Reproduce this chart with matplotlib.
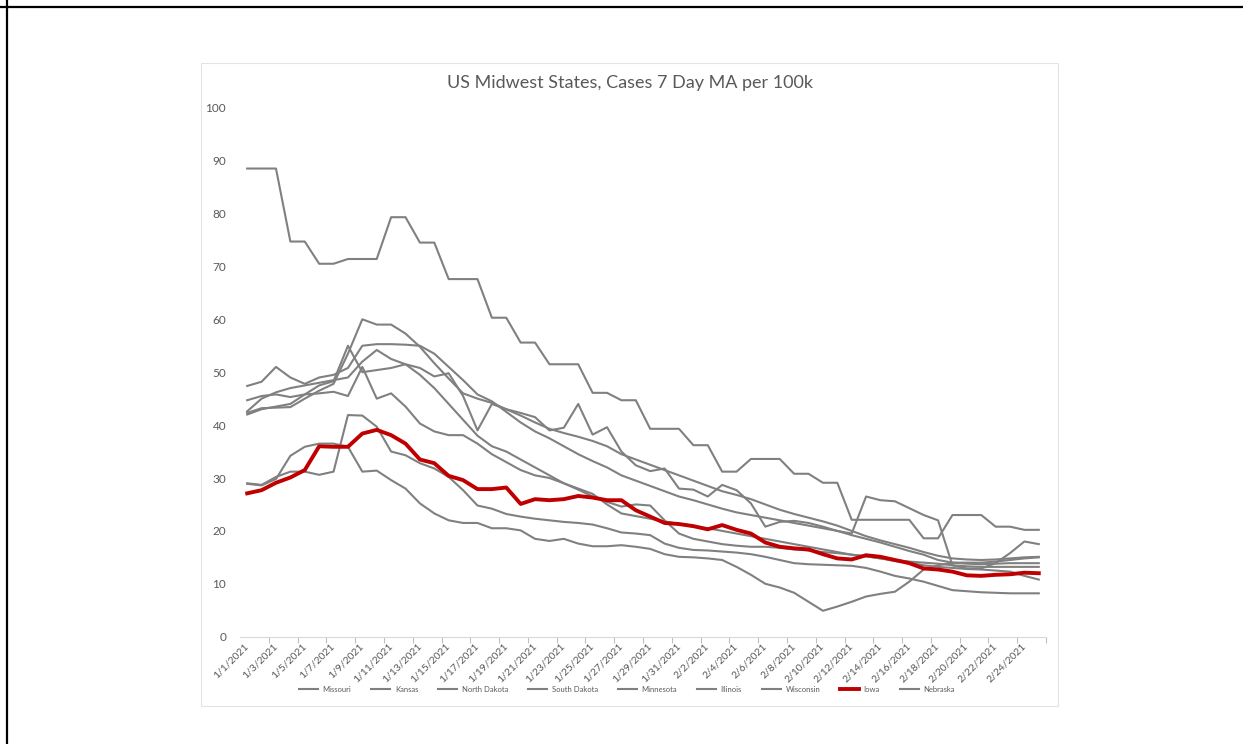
import matplotlib
matplotlib.use("Agg")
import matplotlib.pyplot as plt
from matplotlib.lines import Line2D
from matplotlib.patches import Rectangle
from matplotlib.ticker import FixedLocator, NullFormatter

plt.rcParams['font.family'] = ['Lato', 'DejaVu Sans']

# daily dates 1/1/2021 .. 2/25/2021
dates = [f"1/{d}/2021" for d in range(1, 32)] + [f"2/{d}/2021" for d in range(1, 26)]

states = ['Missouri', 'Kansas', 'North Dakota', 'South Dakota', 'Minnesota',
          'Illinois', 'Wisconsin', 'Iowa', 'Nebraska']

missouri = [42.0, 43.0, 43.5, 44.0, 45.8, 47.5, 48.3, 55.0, 50.0, 50.4,
            50.8, 51.5, 50.8, 49.2, 49.8, 45.5, 39.0, 44.0, 43.0, 42.3,
            41.5, 39.0, 39.5, 44.0, 38.2, 39.6, 35.0, 32.4, 31.3, 31.8,
            28.0, 27.8, 26.5, 28.7, 27.7, 25.2, 20.8, 21.7, 21.9, 21.5,
            20.8, 20.0, 19.5, 26.5, 25.8, 25.6, 24.3, 23.0, 22.0, 13.5,
            12.9, 12.9, 13.9, 15.8, 18.0, 17.5]
kansas = [88.5, 88.5, 88.5, 74.7, 74.7, 70.5, 70.5, 71.4, 71.4, 71.4,
          79.3, 79.3, 74.5, 74.5, 67.6, 67.6, 67.6, 60.3, 60.3, 55.6,
          55.6, 51.5, 51.5, 51.5, 46.1, 46.1, 44.7, 44.7, 39.3, 39.3,
          39.3, 36.2, 36.2, 31.2, 31.2, 33.6, 33.6, 33.6, 30.8, 30.8,
          29.1, 29.1, 22.1, 22.1, 22.1, 22.1, 22.1, 18.6, 18.6, 23.0,
          23.0, 23.0, 20.8, 20.8, 20.2, 20.2]
north_dakota = [42.3, 43.2, 43.3, 43.4, 45.0, 46.5, 47.8, 53.5, 60.0, 59.0,
                59.0, 57.3, 54.8, 51.7, 48.8, 46.0, 45.0, 44.2, 43.0, 41.8,
                40.5, 39.3, 38.5, 37.8, 37.0, 36.0, 34.5, 33.5, 32.5, 31.5,
                30.5, 29.5, 28.5, 27.5, 26.8, 26.0, 25.0, 24.0, 23.2, 22.5,
                21.8, 21.0, 20.0, 19.0, 18.2, 17.5, 16.8, 16.0, 15.3, 14.8,
                14.6, 14.5, 14.6, 14.8, 15.0, 15.1]
south_dakota = [47.4, 48.2, 51.0, 49.0, 47.8, 49.0, 49.5, 50.8, 55.0, 55.3,
                55.3, 55.2, 55.0, 53.5, 51.0, 48.5, 45.8, 44.5, 42.5, 40.5,
                38.8, 37.5, 36.0, 34.5, 33.2, 32.0, 30.5, 29.5, 28.5, 27.5,
                26.5, 25.8, 25.0, 24.2, 23.5, 23.0, 22.5, 22.0, 21.5, 21.0,
                20.5, 20.0, 19.2, 18.5, 17.8, 17.0, 16.2, 15.5, 14.5, 14.0,
                13.8, 13.7, 13.8, 13.9, 13.9, 13.9]
minnesota = [44.7, 45.5, 45.8, 45.3, 45.8, 46.0, 46.3, 45.5, 51.0, 45.0,
             46.0, 43.5, 40.3, 38.8, 38.1, 38.1, 36.5, 34.5, 33.0, 31.5,
             30.5, 30.0, 29.0, 27.8, 26.5, 25.5, 24.6, 25.0, 24.8, 22.0,
             19.5, 18.5, 18.0, 17.5, 17.2, 17.0, 17.0, 16.8, 16.5, 16.3,
             16.0, 15.8, 15.5, 15.2, 14.8, 14.3, 14.0, 13.5, 13.2, 13.0,
             12.8, 12.7, 12.5, 12.3, 11.5, 10.8]
illinois = [42.6, 45.0, 46.2, 47.0, 47.5, 48.0, 48.5, 49.0, 52.0, 54.2,
            52.5, 51.5, 49.5, 47.0, 44.0, 41.0, 38.0, 36.0, 35.0, 33.5,
            32.0, 30.5, 29.0, 28.0, 27.0, 25.0, 23.3, 22.8, 22.3, 21.8,
            21.3, 20.8, 20.5, 20.0, 19.5, 19.0, 18.5, 18.0, 17.5, 17.0,
            16.5, 16.0, 15.5, 15.2, 14.8, 14.5, 14.2, 14.0, 13.8, 13.5,
            13.3, 13.2, 13.2, 13.2, 13.2, 13.2]
wisconsin = [28.9, 28.6, 29.8, 34.2, 35.9, 36.5, 36.5, 35.9, 31.2, 31.4,
             29.6, 28.0, 25.2, 23.3, 22.0, 21.5, 21.5, 20.5, 20.5, 20.1,
             18.5, 18.1, 18.5, 17.6, 17.1, 17.1, 17.3, 17.0, 16.6, 15.6,
             15.1, 15.0, 14.8, 14.5, 13.2, 11.7, 10.0, 9.3, 8.3, 6.6,
             4.9, 5.7, 6.6, 7.6, 8.1, 8.5, 10.4, 12.7, 13.5, 14.0,
             14.0, 14.0, 14.2, 14.5, 14.8, 15.0]
iowa = [27.1, 27.7, 29.1, 30.1, 31.5, 36.0, 35.9, 35.9, 38.4, 39.1,
        38.1, 36.5, 33.5, 32.8, 30.4, 29.6, 27.9, 27.9, 28.2, 25.1,
        26.0, 25.8, 26.0, 26.6, 26.3, 25.8, 25.8, 23.9, 22.7, 21.5,
        21.3, 20.9, 20.3, 21.1, 20.2, 19.5, 17.8, 17.0, 16.7, 16.5,
        15.6, 14.8, 14.6, 15.4, 15.1, 14.5, 13.9, 12.9, 12.7, 12.3,
        11.6, 11.5, 11.7, 11.8, 12.1, 12.0]
nebraska = [29.0, 28.7, 30.2, 31.2, 31.2, 30.6, 31.2, 41.9, 41.8, 39.7,
            35.0, 34.3, 32.8, 31.8, 30.2, 27.7, 24.8, 24.2, 23.2, 22.7,
            22.3, 22.0, 21.7, 21.5, 21.2, 20.5, 19.7, 19.5, 19.2, 17.6,
            16.8, 16.4, 16.3, 16.1, 15.9, 15.6, 15.1, 14.5, 13.9, 13.7,
            13.6, 13.5, 13.4, 13.0, 12.3, 11.5, 11.0, 10.4, 9.6, 8.8,
            8.6, 8.4, 8.3, 8.2, 8.2, 8.2]

series = [missouri, kansas, north_dakota, south_dakota, minnesota,
          illinois, wisconsin, iowa, nebraska]

W, H = 1243, 744
fig = plt.figure(figsize=(W / 100, H / 100), dpi=100)

# page border (top and left only)
fig.add_artist(Line2D([0, 1], [1 - 6.7 / H, 1 - 6.7 / H], color='black', lw=1.6,
                      transform=fig.transFigure))
fig.add_artist(Line2D([6.7 / W, 6.7 / W], [0, 1], color='black', lw=1.6,
                      transform=fig.transFigure))

# chart area box
fig.add_artist(Rectangle((201 / W, 1 - 706 / H), (1058 - 201) / W, (706 - 63) / H,
                         transform=fig.transFigure, fill=False,
                         edgecolor='#e3e3e3', lw=0.8))

ax = fig.add_axes([240 / W, 1 - 636.7 / H, (1046 - 240) / W, (636.7 - 107.7) / H])

x = list(range(len(dates)))
for name, vals in zip(states, series):
    if name == 'Iowa':
        ax.plot(x, vals, color='#c00000', lw=2.8, label=name, zorder=5,
                solid_joinstyle='round')
    else:
        ax.plot(x, vals, color='#808080', lw=1.5, label=name, zorder=3)

ax.set_xlim(-0.5, len(dates) - 0.5)
ax.set_ylim(0, 100)
ax.set_yticks(range(0, 101, 10))

ax.set_xticks(x[::2])
ax.set_xticklabels(dates[::2], rotation=45, ha='right', va='center',
                   rotation_mode='anchor', fontsize=7.5, color='#595959')
ax.tick_params(axis='x', which='major', length=0, pad=6)
ax.xaxis.set_minor_locator(FixedLocator([i + 1.5 for i in range(0, len(dates), 2)]))
ax.xaxis.set_minor_formatter(NullFormatter())
ax.tick_params(axis='x', which='minor', length=4, color='#bfbfbf', width=0.8)
ax.tick_params(axis='y', length=0, pad=10, labelsize=8.5, labelcolor='#595959')

for s in ['top', 'right', 'left']:
    ax.spines[s].set_visible(False)
ax.spines['bottom'].set_color('#d9d9d9')
ax.spines['bottom'].set_linewidth(0.8)

fig.text(630 / W, 1 - 83 / H, 'US Midwest States, Cases 7 Day MA per 100k',
         ha='center', va='center', fontsize=13, color='#595959')

fig.legend(loc='center', bbox_to_anchor=(627 / W, 1 - 689 / H), ncol=9,
           frameon=False, fontsize=5.5, labelcolor='#595959',
           handlelength=2.5, columnspacing=2.6, handletextpad=0.6)

fig.savefig('out.png', dpi=100, facecolor='white')
